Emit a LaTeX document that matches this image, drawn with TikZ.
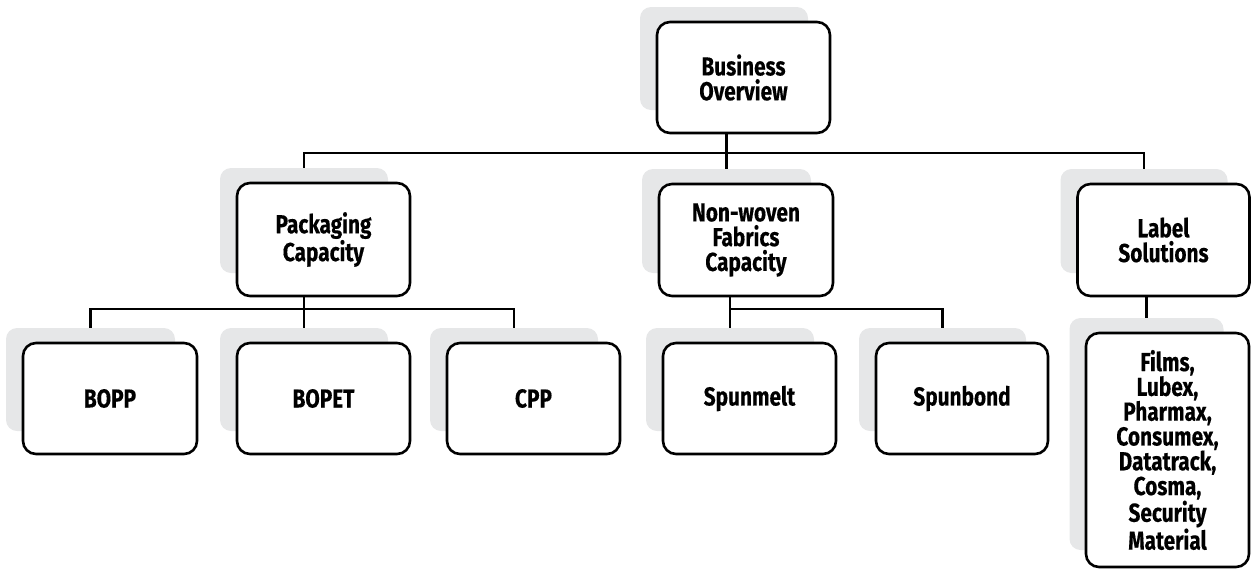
\documentclass[tikz,border=0pt]{standalone}
\usepackage{fontspec}
\setmainfont{Fira Sans}[FakeStretch=0.8, BoldFeatures={FakeBold=0.35}]
\definecolor{shade}{HTML}{E6E7E8}
\begin{document}
\begin{tikzpicture}[x=1pt,y=-1pt,
  mainbox/.style={draw=black, fill=white, line width=2.6pt, rounded corners=13pt,
    align=center, inner sep=0pt, font=\fontsize{26}{24.8}\selectfont\bfseries},
  shadowbox/.style={fill=shade, draw=none, rounded corners=11pt, inner sep=0pt},
  conn/.style={draw=black, line width=2.3pt}]
\useasboundingbox (0,0) rectangle (1251,571);
\newcommand\gbox[6]{%
  \node[shadowbox, minimum width=#4-5, minimum height=#5-8] (#1-s) at (#2-19.5,#3-19) {};
  \node[mainbox, minimum width=#4, minimum height=#5] (#1) at (#2,#3) {#6};}
% top level
\gbox{bus}{743.5}{77.5}{173}{111}{Business\\Overview}
\gbox{pkg}{323.5}{239.5}{173}{113}{Packaging\\Capacity}
\gbox{nw}{746}{240}{174}{112}{Non-woven\\Fabrics\\Capacity}
\gbox{lab}{1163.5}{240}{172}{112}{Label\\Solutions}
% bottom level
\gbox{bopp}{110}{398.5}{174}{111}{BOPP}
\gbox{bopet}{323.5}{398.5}{173}{111}{BOPET}
\gbox{cpp}{533.5}{398.5}{173}{111}{CPP}
\gbox{spm}{749.5}{398.5}{173}{111}{Spunmelt}
\gbox{spb}{962}{398.5}{172}{111}{Spunbond}
\node[shadowbox, minimum width=154, minimum height=232] (tall-s) at (1146.5,434) {};
\node[mainbox, minimum width=163, minimum height=234] (tall) at (1167.5,450)
  {\fontsize{26}{24}\selectfont Films,\\Lubex,\\Pharmax,\\Consumex,\\Datatrack,\\Cosma,\\Security\\Material};
% connectors
\draw[conn] (bus.south -| nw-s.north) -- ++(0,22);
\draw[conn] (pkg-s.north) -- ++(0,-15) -| (lab-s.north);
\draw[conn] (nw-s.north) -- ++(0,-15);
\draw[conn] (pkg.south -| bopet-s.north) -- (bopet-s.north);
\draw[conn] (bopp-s.north) -- ++(0,-19) -| (cpp-s.north);
\draw[conn] (nw.south -| spm-s.north) -- (spm-s.north);
\draw[conn] (spm-s.north) -- ++(0,-19) -| (spb-s.north);
\draw[conn] (lab.south -| tall-s.north) -- (tall-s.north);
\end{tikzpicture}
\end{document}
